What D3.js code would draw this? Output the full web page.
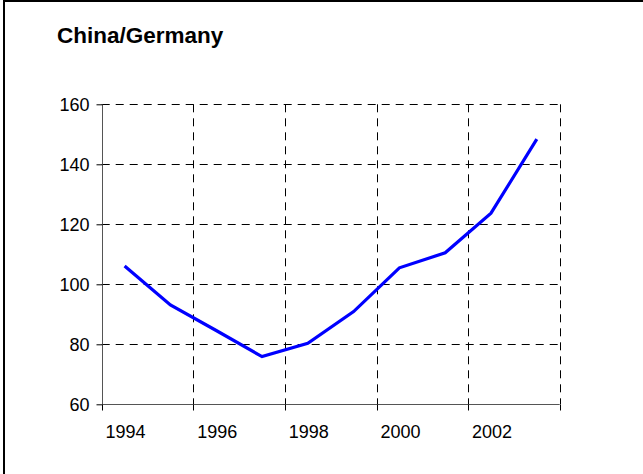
<!DOCTYPE html>
<html>
<head>
<meta charset="utf-8">
<script src="https://cdn.jsdelivr.net/npm/d3@7"></script>
<style>
  html, body { margin: 0; padding: 0; background: #fff; }
  svg { display: block; }
  text { font-family: "Liberation Sans", Arial, sans-serif; fill: #000; }
</style>
</head>
<body>
<script>
const years = [1994, 1995, 1996, 1997, 1998, 1999, 2000, 2001, 2002, 2003];
const values = [106.1, 93.1, 84.6, 75.9, 80.3, 90.9, 105.5, 110.5, 123.7, 148.4];
const yTicks = [60, 80, 100, 120, 140, 160];
const xTickYears = [1994, 1996, 1998, 2000, 2002];
const title = "China/Germany";

const W = 643, H = 474;
const pLeft = 101.7, pRight = 559.7, pTop = 104.3, pBottom = 404.3;

const svg = d3.select("body").append("svg").attr("width", W).attr("height", H);

// border (top and left only)
svg.append("line").attr("x1", 3).attr("x2", W).attr("y1", 1).attr("y2", 1)
  .attr("stroke", "#000").attr("stroke-width", 2);
svg.append("line").attr("x1", 4).attr("x2", 4).attr("y1", 0).attr("y2", H)
  .attr("stroke", "#000").attr("stroke-width", 2);

svg.append("text").attr("x", 57).attr("y", 43)
  .style("font-size", "22.5px").style("font-weight", "bold").text(title);

const x = d3.scaleBand().domain(years).range([pLeft, pRight]).padding(0);
const y = d3.scaleLinear().domain([60, 160]).range([pBottom, pTop]);

const grid = svg.append("g").attr("stroke", "#000").attr("stroke-width", 1)
  .attr("stroke-dasharray", "8,6").attr("fill", "none");

// horizontal grid
grid.selectAll("line.h").data(yTicks.filter(d => d > 60)).enter().append("line")
  .attr("x1", pLeft).attr("x2", pRight)
  .attr("y1", d => Math.round(y(d)) + 0.5).attr("y2", d => Math.round(y(d)) + 0.5);

// vertical grid at band boundaries every 2 categories
const vGrid = xTickYears.slice(1).map(d => x(d)).concat([pRight]);
grid.selectAll("line.v").data(vGrid).enter().append("line")
  .attr("x1", d => Math.round(d) + 0.5).attr("x2", d => Math.round(d) + 0.5)
  .attr("y1", pTop).attr("y2", pBottom);

// y axis
const yAxis = d3.axisLeft(y).tickValues(yTicks).tickSize(6).tickPadding(7);
const gy = svg.append("g").attr("transform", `translate(${Math.round(pLeft) + 0.5},0)`).call(yAxis);
gy.select(".domain").attr("stroke", "#555").attr("d", `M0,${pTop}V${pBottom}`);
gy.selectAll(".tick line").attr("stroke", "#000");
gy.attr("font-family", null).attr("font-size", null);
gy.selectAll(".tick text").style("font-size", "18px");

// x axis: ticks at band boundaries, labels at band centers
const xAxisG = svg.append("g").attr("transform", `translate(0,${Math.round(pBottom) + 0.5})`);
xAxisG.append("line").attr("x1", pLeft).attr("x2", pRight).attr("y1", 0).attr("y2", 0)
  .attr("stroke", "#555");
const tickPos = xTickYears.map(d => x(d)).concat([pRight]);
xAxisG.selectAll("line.t").data(tickPos).enter().append("line")
  .attr("x1", d => Math.round(d) + 0.5).attr("x2", d => Math.round(d) + 0.5)
  .attr("y1", 0).attr("y2", 6).attr("stroke", "#000");
xAxisG.selectAll("text").data(xTickYears).enter().append("text")
  .attr("x", d => x(d) + x.bandwidth() / 2 + 1)
  .attr("y", 33)
  .attr("text-anchor", "middle")
  .style("font-size", "18px")
  .text(d => d);

// line
const line = d3.line().x((d, i) => x(years[i]) + x.bandwidth() / 2).y(d => y(d));
svg.append("path").datum(values).attr("d", line)
  .attr("fill", "none").attr("stroke", "#0000FF").attr("stroke-width", 3.2)
  .attr("stroke-linejoin", "miter");
</script>
</body>
</html>
